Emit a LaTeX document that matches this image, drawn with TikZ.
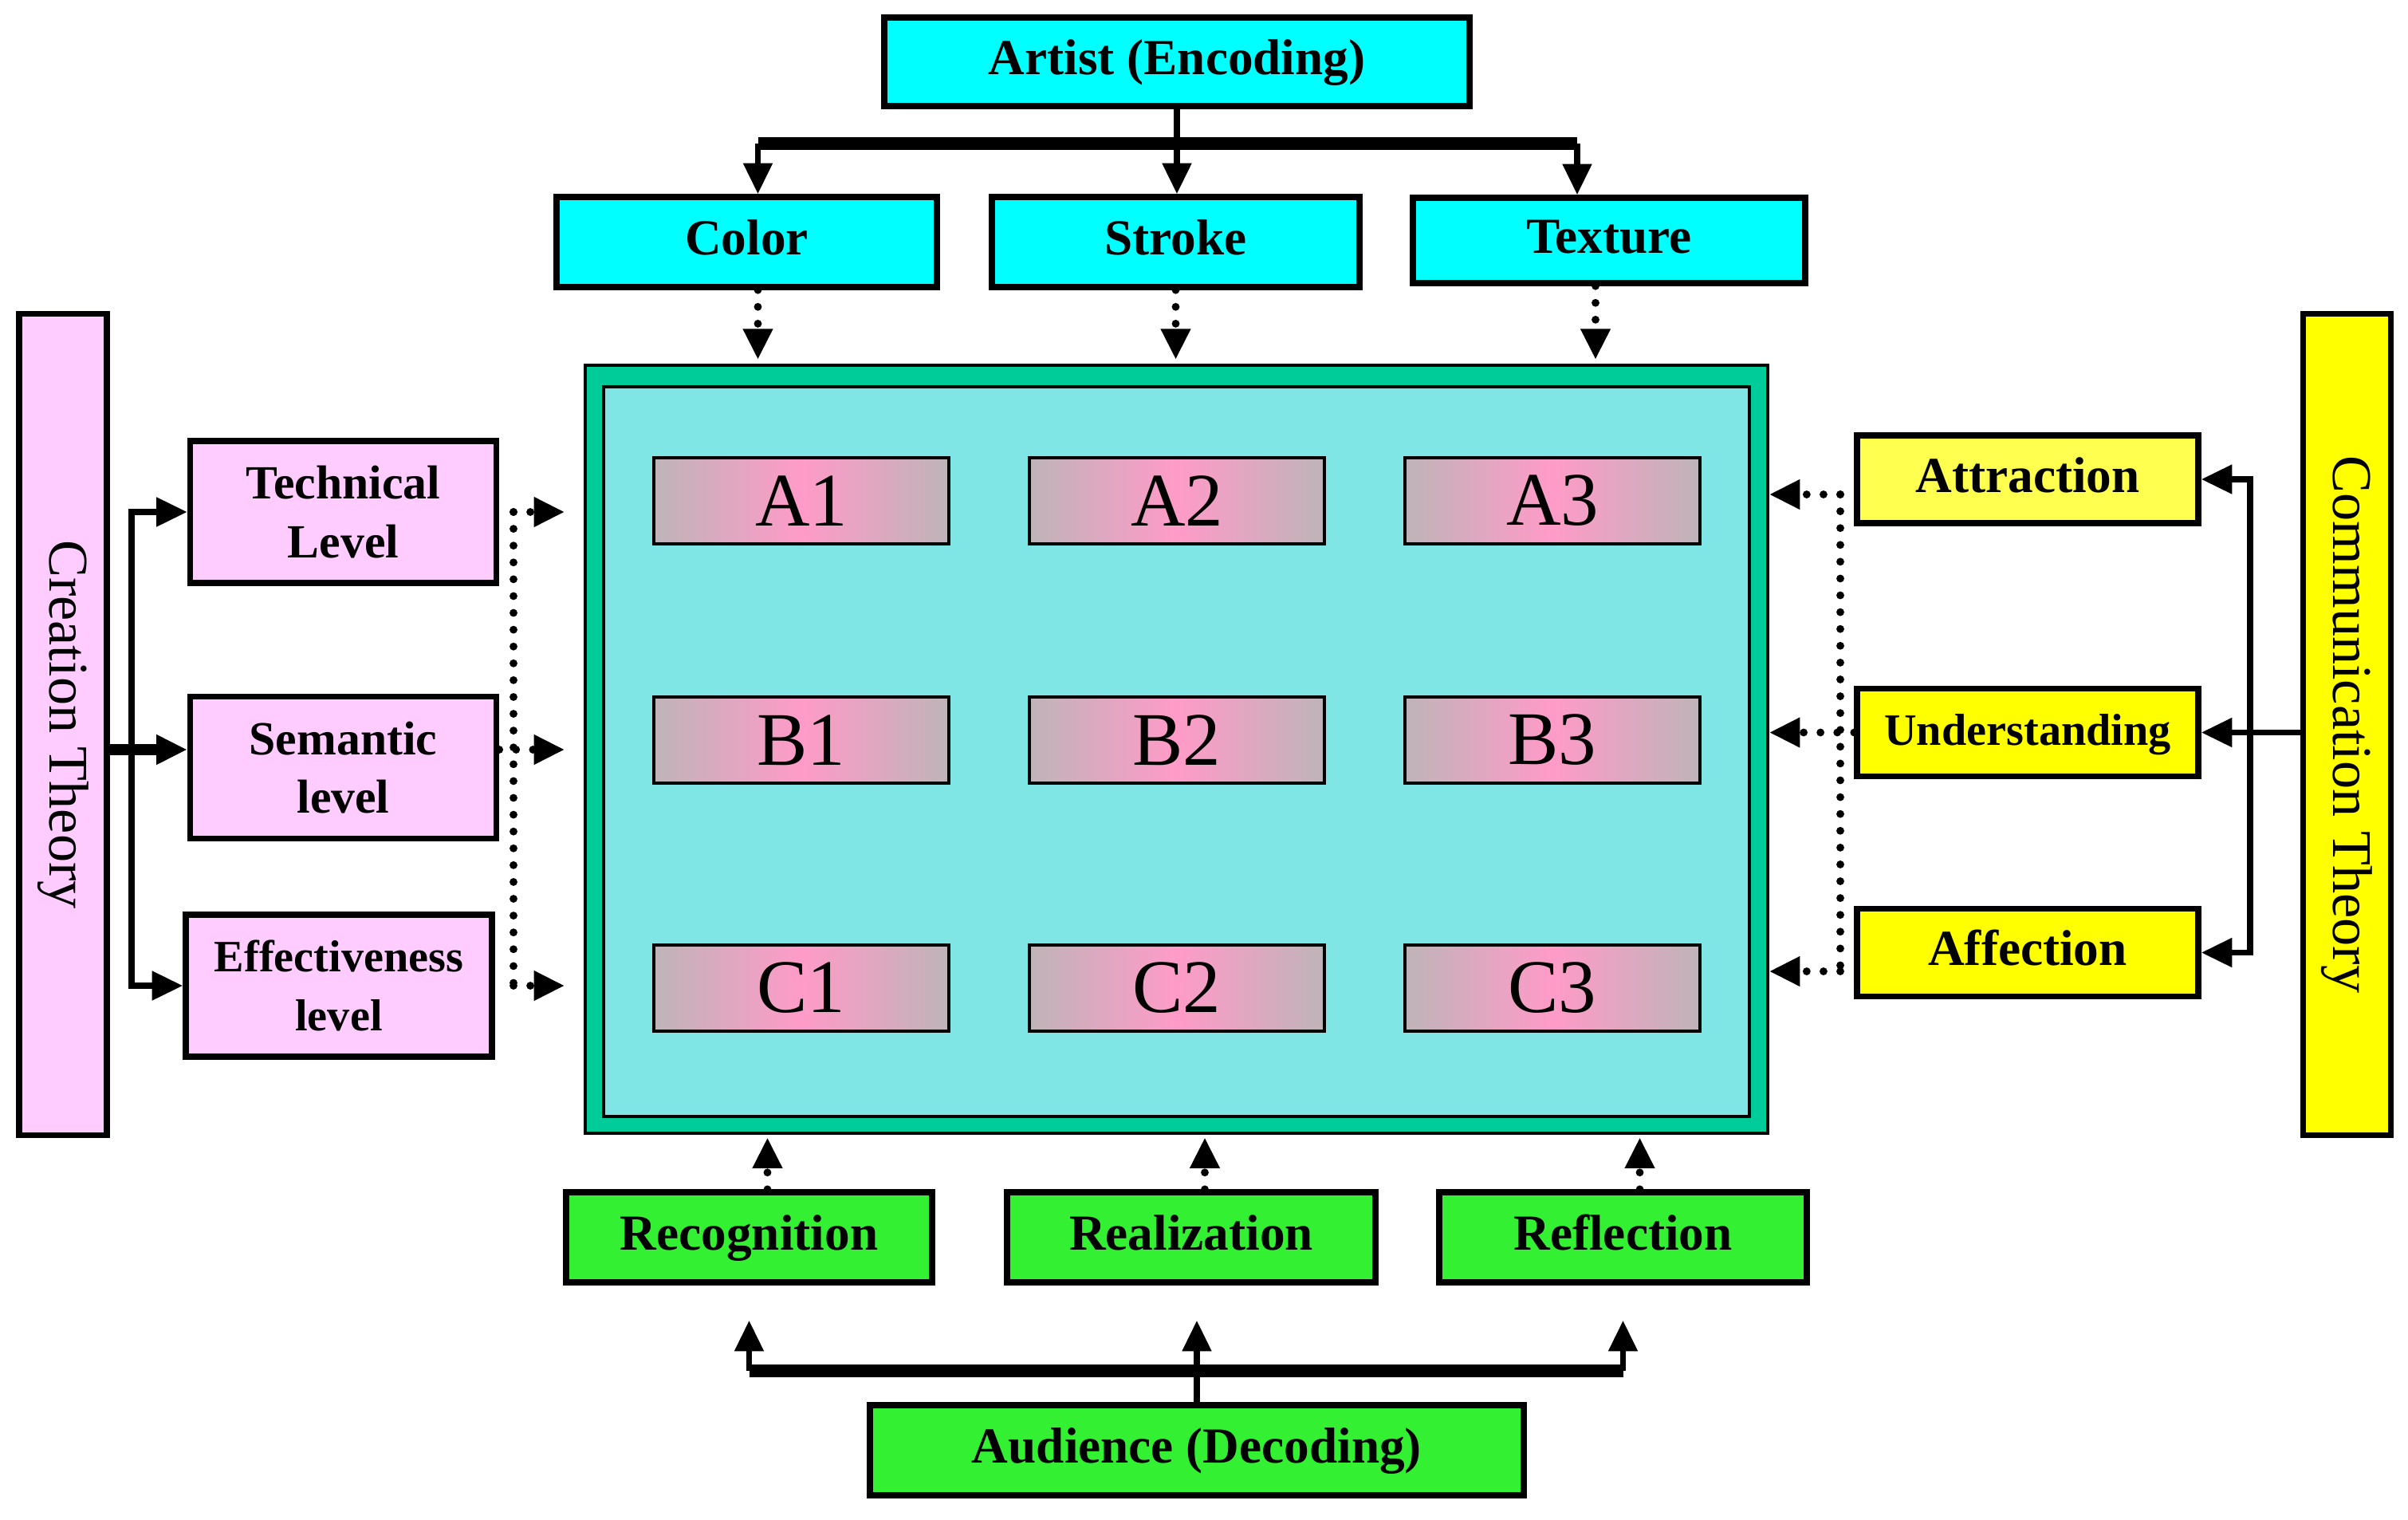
\documentclass[tikz,border=0pt]{standalone}
\usepackage{fontspec}
\setmainfont{Liberation Serif}
\usetikzlibrary{arrows.meta, calc, positioning}
\definecolor{boxcyan}{RGB}{0,255,255}
\definecolor{boxpink}{RGB}{255,204,255}
\definecolor{boxyellow}{RGB}{255,255,0}
\definecolor{boxlemon}{RGB}{255,255,80}
\definecolor{boxgreen}{RGB}{51,240,51}
\definecolor{frameteal}{RGB}{0,204,153}
\definecolor{paneaqua}{RGB}{128,229,229}
\definecolor{cellgray}{RGB}{190,180,184}
\definecolor{cellpink}{RGB}{255,155,200}
\newcommand{\forkD}[3]
{
	\draw[link] (#1 |- #3) |- (#2)
}

\begin{document}
\begin{tikzpicture}[
			box/.style={draw=black, line width=2.1pt, inner sep=0pt, align=center,
				font=\bfseries\fontsize{18}{21}\selectfont},
			oneline/.style={text height=0.45cm, text depth=0.13cm},
			enc/.style={box, oneline, fill=boxcyan},
			lvl/.style={box, fill=boxpink, minimum width=3.84cm, minimum height=1.78cm,
				font=\bfseries\fontsize{17}{21}\selectfont},
			eff/.style={box, oneline, fill=boxyellow, minimum width=4.28cm, minimum height=1.10cm},
			dec/.style={box, oneline, fill=boxgreen, minimum height=1.13cm},
			theory/.style={draw=black, line width=2.1pt, inner sep=0pt, minimum width=1.10cm,
				minimum height=10.30cm, font=\fontsize{20}{24}\selectfont},
			cell/.style={draw=black, line width=1.3pt, left color=cellgray, right color=cellgray,
				middle color=cellpink, minimum width=3.70cm, minimum height=1.08cm, inner sep=0pt,
				font=\fontsize{27}{27}\selectfont},
			link/.style={line width=2.2pt, -{Triangle[length=11pt, width=10pt]}},
			bar/.style={line width=4.5pt},
			dotline/.style={line width=2.8pt, line cap=round, dash pattern=on 0pt off 6pt},
			dotlink/.style={dotline, -{Triangle[length=11pt, width=10pt]}}]
			
			\useasboundingbox (0, 0) rectangle (30.2, -19.05);
			
			\node[enc, minimum width=7.34cm, minimum height=1.11cm] at (14.76, -0.775) (artist){Artist (Encoding)};
			\node[enc, minimum width=4.77cm, minimum height=1.13cm] at (9.365, -3.035) (color){Color};
			\node[enc, minimum width=4.61cm, minimum height=1.13cm] at (14.745, -3.035) (stroke){Stroke};
			\node[enc, minimum width=4.92cm, minimum height=1.07cm] at (20.18, -3.015) (texture){Texture};
			
			\node[draw=black, line width=1pt, fill=frameteal, minimum width=14.83cm, minimum height=9.63cm] at (14.755, -9.395) (core){};
			\node[draw=black, line width=1pt, fill=paneaqua, minimum width=14.37cm, minimum height=9.15cm] at (14.755, -9.425) (pane){};
			\foreach \r/\y in {A/-6.28, B/-9.28, C/-12.39}
				\foreach \c/\x in {1/10.05, 2/14.76, 3/19.47}
					\node[cell] at (\x, \y) (\r\c){\r\c};
			
			\node[theory, fill=boxpink] at (0.79, -9.085) (creation){\rotatebox{-90}{Creation Theory}};
			\node[lvl] at (4.305, -6.42) (tech){Technical\\Level};
			\node[lvl] at (4.305, -9.625) (sem){Semantic\\level};
			\node[lvl, font=\bfseries\fontsize{16}{21}\selectfont] at (4.25, -12.36) (effect){Effectiveness\\level};
			
			\node[theory, fill=boxyellow] at (29.435, -9.085) (comm){\rotatebox{-90}{Communication Theory}};
			\node[eff, fill=boxlemon] at (25.43, -6.01) (attr){Attraction};
			\node[eff, font=\bfseries\fontsize{16}{20}\selectfont] at (25.43, -9.185) (under){Understanding};
			\node[eff] at (25.43, -11.945) (affe){Affection};
			
			\node[dec, minimum width=4.59cm] at (9.395, -15.515) (recog){Recognition};
			\node[dec, minimum width=4.62cm] at (14.94, -15.515) (realiz){Realization};
			\node[dec, minimum width=4.61cm] at (20.355, -15.515) (reflec){Reflection};
			\node[dec, minimum width=8.2cm] at (15.01, -18.185) (audience){Audience (Decoding)};
			
			% artist fan
			\coordinate (topbar) at (0, -1.80);
			\path (color.north) ++(0.14, 0) coordinate (colorIn) (texture.north) ++(-0.40, 0) coordinate (textureIn);
			\draw[link] (artist.south) -- (artist.south |- stroke.north);
			\draw[bar] (colorIn |- topbar) -- (textureIn |- topbar);
			\draw[link] (colorIn |- topbar) -- (colorIn);
			\draw[link] (textureIn |- topbar) -- (textureIn);
			\foreach \n/\dx in {color/0.14, stroke/0, texture/-0.17}
				\draw[dotlink, shorten >=1.5pt] ($(\n.south)+(\dx,0)$) -- ($(\n.south |- core.north)+(\dx,0)$);
			
			% creation side
			\coordinate (midrow) at (0, -9.40);
			\coordinate (ltrunk) at (1.65, 0);
			\coordinate (ldots) at (6.44, 0);
			\forkD{ltrunk}{tech.west}{effect.west};
			\forkD{ltrunk}{effect.west}{tech.west};
			\draw[link, line width=3.8pt] (creation.east |- midrow) -- (sem.west |- midrow);
			\draw[dotline] (ldots |- tech.east) -- (ldots |- effect.east);
			\draw[dotlink, shorten >=0.24cm] (ldots |- tech.east) -- (core.west |- tech.east);
			\draw[dotlink, shorten >=0.24cm] (sem.east |- midrow) -- (core.west |- midrow);
			\draw[dotlink, shorten >=0.24cm] (ldots |- effect.east) -- (core.west |- effect.east);
			
			% communication side
			\coordinate (rtrunk) at (28.22, 0);
			\coordinate (rdots) at (23.08, 0);
			\coordinate (rrowA) at (0, -6.20);
			\coordinate (rrowC) at (0, -12.18);
			\draw[link] (comm.west |- under.east) -- (under.east);
			\forkD{rtrunk}{attr.east}{affe.east};
			\forkD{rtrunk}{affe.east}{attr.east};
			\draw[dotline] (rdots |- rrowA) -- (rdots |- rrowC);
			\draw[dotlink] (rdots |- rrowA) -- (core.east |- rrowA);
			\draw[dotlink] (under.west) -- (core.east |- under.west);
			\draw[dotlink] (rdots |- rrowC) -- (core.east |- rrowC);
			
			% audience fan
			\coordinate (botbar) at (0, -17.19);
			\draw[bar] (recog.south |- botbar) -- (reflec.south |- botbar);
			\draw[link, shorten >=0.44cm] (audience.north) -- (audience.north |- realiz.south);
			\foreach \n in {recog, reflec}
				\draw[link, shorten >=0.44cm] (\n.south |- botbar) -- (\n.south);
			\foreach \n/\dx in {recog/0.23, realiz/0.17, reflec/0.21}
				\draw[dotlink, shorten >=1pt] ($(\n.north)+(\dx,0)$) -- ($(\n.north |- core.south)+(\dx,0)$);
		\end{tikzpicture}
\end{document}
